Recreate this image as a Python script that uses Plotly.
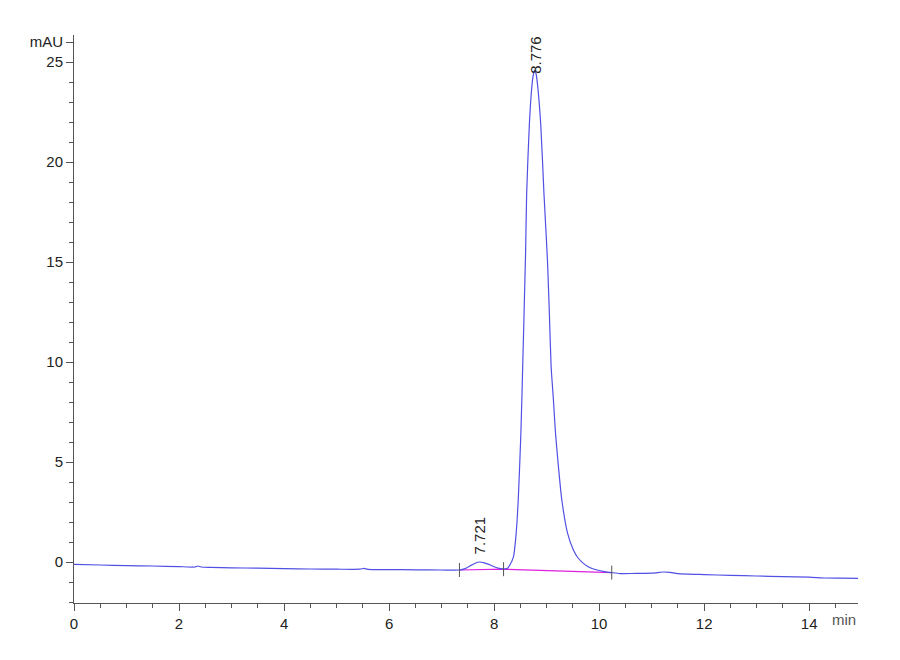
import plotly.graph_objects as go

# Chromatogram trace (time in min, absorbance in mAU)
time_min = [0.0, 0.5, 1.0, 1.5, 2.0, 2.3, 2.36, 2.42, 2.6, 3.0, 3.5, 4.0, 4.5, 5.0, 5.45, 5.52, 5.6,
            6.0, 6.5, 7.0, 7.34, 7.45, 7.55, 7.65, 7.72, 7.8, 7.9, 8.0, 8.1, 8.18, 8.25, 8.3,
            8.37, 8.42, 8.46, 8.51, 8.545, 8.577, 8.6, 8.62, 8.67, 8.72, 8.75, 8.776, 8.80,
            8.83, 8.89, 8.95, 9.016, 9.054, 9.086, 9.13, 9.17, 9.225, 9.29, 9.4, 9.51, 9.6,
            9.7, 9.8, 9.96, 10.1, 10.24, 10.4, 10.7, 11.0, 11.15, 11.22, 11.35, 11.5, 12.0,
            12.5, 13.0, 13.5, 14.0, 14.3, 14.6, 14.93]
absorbance_mau = [-0.12, -0.15, -0.18, -0.2, -0.23, -0.25, -0.2, -0.25, -0.27, -0.29, -0.31, -0.33,
                  -0.35, -0.36, -0.36, -0.32, -0.37, -0.38, -0.39, -0.4, -0.4, -0.33, -0.18, -0.05,
                  0.0, -0.03, -0.12, -0.24, -0.32, -0.35, -0.32, -0.15, 0.27, 1.43, 3.1, 6.43,
                  9.77, 13.1, 15.5, 18.4, 21.8, 23.8, 24.4, 24.6, 24.4, 23.8, 21.8, 18.4, 15.1,
                  12.3, 9.77, 8.1, 6.43, 4.77, 3.1, 1.43, 0.6, 0.2, -0.07, -0.25, -0.4, -0.48,
                  -0.53, -0.58, -0.57, -0.56, -0.52, -0.5, -0.52, -0.58, -0.63, -0.67, -0.7, -0.73,
                  -0.76, -0.8, -0.81, -0.82]

# Integration baseline / peak boundaries
boundary_t = [7.34, 8.18, 10.24]
boundary_y = [-0.4, -0.36, -0.53]

# Peak labels
peak_t = [7.721, 8.776]
peak_h = [0.0, 24.6]
peak_labels = ["7.721", "8.776"]

# Axis ticks
y_tickvals = [0, 5, 10, 15, 20, 25, 26]
y_ticktext = ["0", "5", "10", "15", "20", "25", "mAU"]
x_tickvals = [0, 2, 4, 6, 8, 10, 12, 14]
x_unit = "min"

FONT = "Liberation Sans Narrow, Arial Narrow, Liberation Sans, Arial"

fig = go.Figure()
fig.add_trace(go.Scatter(x=boundary_t, y=boundary_y, mode="lines",
                         line=dict(color="#e020e0", width=1.2), hoverinfo="skip"))
fig.add_trace(go.Scatter(x=time_min, y=absorbance_mau, mode="lines",
                         line=dict(color="#5050e4", width=1.2, shape="spline", smoothing=0.6)))
fig.add_trace(go.Scatter(x=boundary_t, y=boundary_y, mode="markers",
                         marker=dict(symbol="line-ns", size=10,
                                     line=dict(color="#555555", width=1)),
                         hoverinfo="skip"))

for t, h, lab in zip(peak_t, peak_h, peak_labels):
    fig.add_annotation(x=t, y=h, text=lab, textangle=-90, showarrow=False,
                       xanchor="center", yanchor="bottom", yshift=(6 if h < 1 else -6),
                       font=dict(family=FONT, size=15, color="#222222"))

fig.add_annotation(x=1, xref="paper", y=0, yref="paper", text=x_unit, showarrow=False,
                   xanchor="right", yanchor="top", yshift=-6,
                   font=dict(family=FONT, size=15, color="#555555"))

axis_font = dict(family=FONT, size=15, color="#222222")
fig.update_layout(
    width=900, height=660,
    margin=dict(l=66, r=50, t=27, b=65),
    plot_bgcolor="white", paper_bgcolor="white",
    showlegend=False,
    xaxis=dict(range=[0, 14.93], tickvals=x_tickvals, ticks="outside", ticklen=7,
               tickcolor="#555555", showgrid=False, zeroline=False, showline=True,
               linecolor="#555555", linewidth=1, tickfont=axis_font,
               minor=dict(dtick=0.5, ticks="outside", ticklen=4, tickcolor="#555555")),
    yaxis=dict(range=[-2.05, 26.35], tickvals=y_tickvals, ticktext=y_ticktext,
               ticks="outside", ticklen=7, tickcolor="#555555", showgrid=False,
               zeroline=False, showline=True, linecolor="#555555", linewidth=1,
               tickfont=axis_font,
               minor=dict(dtick=1, ticks="outside", ticklen=4, tickcolor="#555555")),
)

fig.write_html("out.html")
